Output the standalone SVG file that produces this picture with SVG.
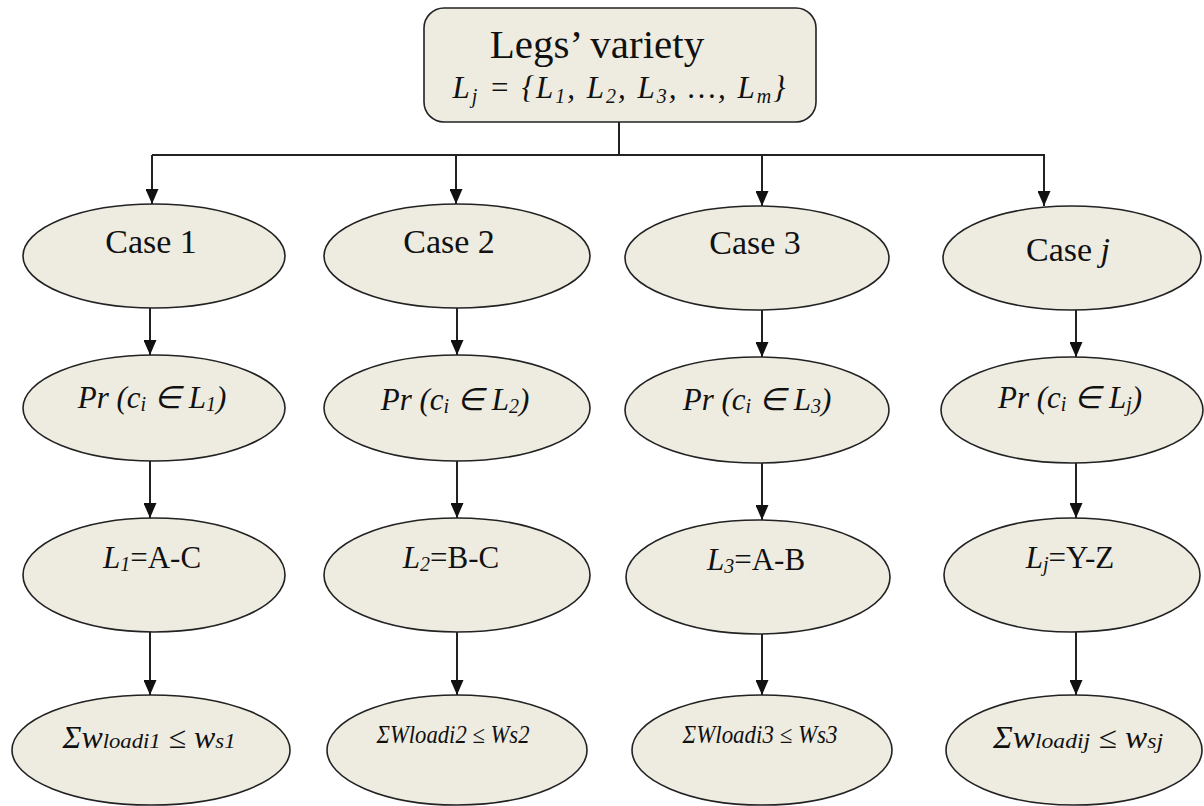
<svg xmlns="http://www.w3.org/2000/svg" width="1204" height="806" viewBox="0 0 1204 806">
  <defs>
    <marker id="arrow" viewBox="0 0 15 13" refX="15" refY="6.5" markerWidth="15" markerHeight="13" markerUnits="userSpaceOnUse" orient="auto">
      <path d="M0,0 L15,6.5 L0,13 z" fill="#111"/>
    </marker>
  </defs>
  <style>
    .node { fill: #eeece1; stroke: #222; stroke-width: 1.6; }
    .edge { fill: none; stroke: #222; stroke-width: 2; }
    .arr { marker-end: url(#arrow); }
    text { font-family: "Liberation Serif", "Times New Roman", serif; fill: #111; text-anchor: middle; }
    .case { font-size: 34px; }
    .math { font-size: 31px; font-style: italic; }
    .sub { font-size: 20px; }
  </style>
  <rect width="1204" height="806" fill="#ffffff"/>

  <!-- connectors -->
  <g id="connectors">
    <path class="edge" d="M619,122 V155 M152,155 H1045"/>
    <line class="edge arr" x1="152" y1="155" x2="152" y2="204"/>
    <line class="edge arr" x1="456" y1="155" x2="456" y2="204"/>
    <line class="edge arr" x1="762" y1="155" x2="762" y2="206"/>
    <line class="edge arr" x1="1044" y1="155" x2="1044" y2="206"/>

    <line class="edge arr" x1="150" y1="308" x2="150" y2="355"/>
    <line class="edge arr" x1="150" y1="461" x2="150" y2="518"/>
    <line class="edge arr" x1="150" y1="632" x2="150" y2="695"/>

    <line class="edge arr" x1="457" y1="308" x2="457" y2="355"/>
    <line class="edge arr" x1="457" y1="461" x2="457" y2="518"/>
    <line class="edge arr" x1="457" y1="632" x2="457" y2="695"/>

    <line class="edge arr" x1="762" y1="310" x2="762" y2="357"/>
    <line class="edge arr" x1="762" y1="463" x2="762" y2="520"/>
    <line class="edge arr" x1="762" y1="634" x2="762" y2="695"/>

    <line class="edge arr" x1="1076" y1="310" x2="1076" y2="357"/>
    <line class="edge arr" x1="1076" y1="463" x2="1076" y2="518"/>
    <line class="edge arr" x1="1076" y1="632" x2="1076" y2="695"/>
  </g>

  <!-- root -->
  <g id="legs-variety">
    <rect class="node" x="424" y="8" width="392" height="114" rx="20" ry="20"/>
    <text x="597" y="58" style="font-size:41px">Legs’ variety</text>
    <text class="math" x="619" y="98" textLength="333" lengthAdjust="spacing">L<tspan class="sub" dy="5">j</tspan><tspan dy="-5"> = {L</tspan><tspan class="sub" dy="5">1</tspan><tspan dy="-5">, L</tspan><tspan class="sub" dy="5">2</tspan><tspan dy="-5">, L</tspan><tspan class="sub" dy="5">3</tspan><tspan dy="-5">,  …, L</tspan><tspan class="sub" dy="5">m</tspan><tspan dy="-5">}</tspan></text>
  </g>

  <!-- case row -->
  <g id="case-1">
    <ellipse class="node" cx="154" cy="256" rx="131" ry="52"/>
    <text class="case" x="151" y="253">Case 1</text>
  </g>
  <g id="case-2">
    <ellipse class="node" cx="457" cy="256" rx="133" ry="52"/>
    <text class="case" x="449" y="253">Case 2</text>
  </g>
  <g id="case-3">
    <ellipse class="node" cx="757" cy="258" rx="132" ry="52"/>
    <text class="case" x="755" y="254">Case 3</text>
  </g>
  <g id="case-j">
    <ellipse class="node" cx="1072" cy="258" rx="129" ry="52"/>
    <text class="case" x="1068" y="261">Case <tspan font-style="italic">j</tspan></text>
  </g>

  <!-- probability row -->
  <g id="pr-1">
    <ellipse class="node" cx="154" cy="408" rx="131" ry="53"/>
    <text class="math" x="152" y="408">Pr (c<tspan class="sub" dy="3">i</tspan><tspan dy="-3"> ∈ L</tspan><tspan class="sub" dy="3">1</tspan><tspan dy="-3">)</tspan></text>
  </g>
  <g id="pr-2">
    <ellipse class="node" cx="457" cy="408" rx="133" ry="53"/>
    <text class="math" x="455" y="410">Pr (c<tspan class="sub" dy="3">i</tspan><tspan dy="-3"> ∈ L</tspan><tspan class="sub" dy="3">2</tspan><tspan dy="-3">)</tspan></text>
  </g>
  <g id="pr-3">
    <ellipse class="node" cx="757" cy="410" rx="132" ry="53"/>
    <text class="math" x="757" y="410">Pr (c<tspan class="sub" dy="3">i</tspan><tspan dy="-3"> ∈ L</tspan><tspan class="sub" dy="3">3</tspan><tspan dy="-3">)</tspan></text>
  </g>
  <g id="pr-j">
    <ellipse class="node" cx="1072" cy="410" rx="131" ry="53"/>
    <text class="math" x="1070" y="408">Pr (c<tspan class="sub" dy="3">i</tspan><tspan dy="-3"> ∈ L</tspan><tspan class="sub" dy="3">j</tspan><tspan dy="-3">)</tspan></text>
  </g>

  <!-- leg row -->
  <g id="leg-1">
    <ellipse class="node" cx="154" cy="575" rx="131" ry="57"/>
    <text x="152" y="568" style="font-size:31px"><tspan font-style="italic">L</tspan><tspan class="sub" font-style="italic" dy="3">1</tspan><tspan dy="-3">=A-C</tspan></text>
  </g>
  <g id="leg-2">
    <ellipse class="node" cx="457" cy="575" rx="133" ry="57"/>
    <text x="451" y="568" style="font-size:31px"><tspan font-style="italic">L</tspan><tspan class="sub" font-style="italic" dy="3">2</tspan><tspan dy="-3">=B-C</tspan></text>
  </g>
  <g id="leg-3">
    <ellipse class="node" cx="758" cy="577" rx="132" ry="57"/>
    <text x="756" y="570" style="font-size:31px"><tspan font-style="italic">L</tspan><tspan class="sub" font-style="italic" dy="3">3</tspan><tspan dy="-3">=A-B</tspan></text>
  </g>
  <g id="leg-j">
    <ellipse class="node" cx="1072" cy="575" rx="128" ry="57"/>
    <text x="1070" y="568" style="font-size:31px"><tspan font-style="italic">L</tspan><tspan class="sub" font-style="italic" dy="3">j</tspan><tspan dy="-3">=Y-Z</tspan></text>
  </g>

  <!-- load constraint row -->
  <g id="load-1">
    <ellipse class="node" cx="151" cy="750" rx="139" ry="55"/>
    <text x="149" y="748" style="font-size:31px;font-style:italic" textLength="173" lengthAdjust="spacingAndGlyphs">Σw<tspan style="font-size:22px">loadi1</tspan> ≤ w<tspan style="font-size:22px">s1</tspan></text>
  </g>
  <g id="load-2">
    <ellipse class="node" cx="457" cy="750" rx="130" ry="55"/>
    <text x="453" y="743" style="font-size:25px;font-style:italic" textLength="153" lengthAdjust="spacingAndGlyphs">ΣWloadi2 ≤ Ws2</text>
  </g>
  <g id="load-3">
    <ellipse class="node" cx="762" cy="750" rx="130" ry="55"/>
    <text x="760" y="743" style="font-size:25px;font-style:italic" textLength="155" lengthAdjust="spacingAndGlyphs">ΣWloadi3 ≤ Ws3</text>
  </g>
  <g id="load-j">
    <ellipse class="node" cx="1074" cy="750" rx="128" ry="55"/>
    <text x="1078" y="748" style="font-size:31px;font-style:italic" textLength="170" lengthAdjust="spacingAndGlyphs">Σw<tspan style="font-size:22px">loadij</tspan> ≤ w<tspan style="font-size:22px">sj</tspan></text>
  </g>
</svg>
